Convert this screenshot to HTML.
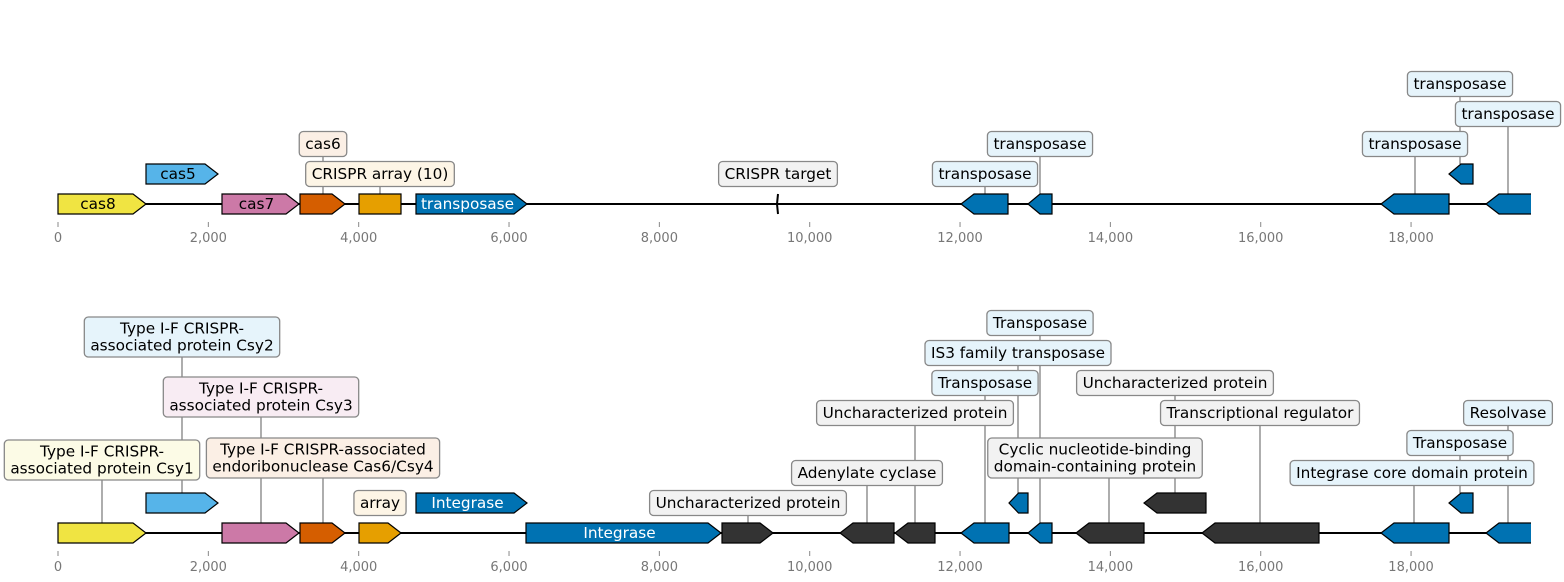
<!DOCTYPE html>
<html><head><meta charset="utf-8"><style>
html,body{margin:0;padding:0;background:#fff;}
svg{display:block;font-family:"DejaVu Sans","Liberation Sans",sans-serif;}
</style></head><body>
<svg id="s" width="1564" height="582" xmlns="http://www.w3.org/2000/svg">
<defs><clipPath id="cp"><rect x="0" y="0" width="1531" height="582"/></clipPath></defs>
<g id="lines"></g><g id="base"></g><g id="genes" clip-path="url(#cp)"></g><g id="boxes"></g><g id="axis"></g>
</svg>
<script>
const NS="http://www.w3.org/2000/svg";
const FS=15.3;
function el(p,t,a,txt){const e=document.createElementNS(NS,t);for(const k in a)e.setAttribute(k,a[k]);if(txt!=null)e.textContent=txt;document.getElementById(p).appendChild(e);return e;}
const Y='#f0e442',LB='#56b4e9',PK='#cc79a7',OR='#d55e00',GO='#e69f00',BL='#0072b2',DK='#333333';
const tint={[Y]:'#fcfbe6',[LB]:'#e6f4fb',[PK]:'#f8ecf3',[OR]:'#fbefe5',[GO]:'#fdf5e6',[BL]:'#e6f4fb',[DK]:'#f2f2f2',none:'#f2f2f2'};
function gene(x1,x2,y,dir,c,label,white){
  const h=10,hl=Math.min(13,(x2-x1)*0.5);let pts;
  if(dir>0)pts=`${x1},${y-h} ${x2-hl},${y-h} ${x2},${y} ${x2-hl},${y+h} ${x1},${y+h}`;
  else if(dir<0)pts=`${x2},${y-h} ${x1+hl},${y-h} ${x1},${y} ${x1+hl},${y+h} ${x2},${y+h}`;
  else pts=`${x1},${y-h} ${x2},${y-h} ${x2},${y+h} ${x1},${y+h}`;
  el('genes','polygon',{points:pts,fill:c,stroke:'#000','stroke-width':1.2,'stroke-linejoin':'miter'});
  if(label)el('genes','text',{x:(x1+x2)/2-(dir>0?4:0),y:y+5,'text-anchor':'middle','font-size':FS,fill:white?'#fff':'#000'},label);
}
function box(cx,cy,lines,fill,lx,ly){
  if(lx!=null)el('lines','line',{x1:lx,y1:cy,x2:lx,y2:ly,stroke:'#333','stroke-width':0.8});
  const g=el('boxes','g',{});
  const n=lines.length,lh=17;
  const r=document.createElementNS(NS,'rect');g.appendChild(r);
  let w=0;
  lines.forEach((s,i)=>{const tx=document.createElementNS(NS,'text');tx.setAttribute('x',cx);tx.setAttribute('y',cy+5-(n-1)*lh/2+i*lh);tx.setAttribute('text-anchor','middle');tx.setAttribute('font-size',FS);tx.textContent=s;g.appendChild(tx);w=Math.max(w,tx.getComputedTextLength());});
  const bw=w+12,bh=n==1?25:40;
  r.setAttribute('x',cx-bw/2);r.setAttribute('y',cy-bh/2);r.setAttribute('width',bw);r.setAttribute('height',bh);r.setAttribute('rx',4);r.setAttribute('fill',fill);r.setAttribute('stroke','#888');r.setAttribute('stroke-width',1.3);
}
function axis(y){
  el('base','line',{x1:58,y1:y,x2:1530,y2:y,stroke:'#000','stroke-width':2});
  for(let i=0;i<=9;i++){const x=58+i*2000*0.07517;el('axis','line',{x1:x,y1:y+18,x2:x,y2:y+23,stroke:'#888','stroke-width':1});
    el('axis','text',{x:x,y:y+38,'text-anchor':'middle','font-size':13,fill:'#777'},i==0?'0':(i*2).toString()+',000');}
}
axis(204);
gene(58,146,204,1,Y,'cas8');
gene(146,218,174,1,LB,'cas5');
gene(222,299,204,1,PK,'cas7');
gene(300,345,204,1,OR);
gene(359,401,204,0,GO);
gene(416,527,204,1,BL,'transposase',true);
el('genes','path',{d:'M778,194 L777,204 L778,214',stroke:'#000','stroke-width':2,fill:'none'});
gene(961,1008,204,-1,BL);
gene(1028,1052,204,-1,BL);
gene(1381,1449,204,-1,BL);
gene(1449,1473,174,-1,BL);
gene(1486,1540,204,-1,BL);
box(323,144,['cas6'],tint[OR],323,194);
box(380,174,['CRISPR array (10)'],'#fdf5e6',380,194);
box(778,174,['CRISPR target'],'#f2f2f2');
box(985,174,['transposase'],tint[BL],985,194);
box(1040,144,['transposase'],tint[BL],1040,194);
box(1415,144,['transposase'],tint[BL],1415,194);
box(1460,84,['transposase'],tint[BL],1460,164);
box(1508,114,['transposase'],tint[BL],1508,194);
const B=533,R=503;
axis(B);
gene(58,146,B,1,Y);
gene(146,218,R,1,LB);
gene(222,299,B,1,PK);
gene(300,345,B,1,OR);
gene(359,401,B,1,GO);
gene(416,527,R,1,BL,'Integrase',true);
gene(526,721,B,1,BL,'Integrase',true);
gene(722,773,B,1,DK);
gene(840,894,B,-1,DK);
gene(895,935,B,-1,DK);
gene(961,1009,B,-1,BL);
gene(1009,1028,R,-1,BL);
gene(1028,1052,B,-1,BL);
gene(1076,1144,B,-1,DK);
gene(1144,1206,R,-1,DK);
gene(1202,1319,B,-1,DK);
gene(1381,1449,B,-1,BL);
gene(1449,1473,R,-1,BL);
gene(1486,1540,B,-1,BL);
box(102,460,['Type I-F CRISPR-','associated protein Csy1'],tint[Y],102,B-10);
box(182,337,['Type I-F CRISPR-','associated protein Csy2'],tint[LB],182,R-10);
box(261,397,['Type I-F CRISPR-','associated protein Csy3'],tint[PK],261,B-10);
box(323,458,['Type I-F CRISPR-associated','endoribonuclease Cas6/Csy4'],tint[OR],323,B-10);
box(380,503,['array'],tint[GO]);
box(748,503,['Uncharacterized protein'],'#f2f2f2',748,B-10);
box(867,473,['Adenylate cyclase'],'#f2f2f2',867,B-10);
box(915,413,['Uncharacterized protein'],'#f2f2f2',915,B-10);
box(985,383,['Transposase'],tint[BL],985,B-10);
box(1018,353,['IS3 family transposase'],tint[BL],1018,R-10);
box(1040,323,['Transposase'],tint[BL],1040,B-10);
box(1095,458,['Cyclic nucleotide-binding','domain-containing protein'],'#f2f2f2',1109,B-10);
box(1175,383,['Uncharacterized protein'],'#f2f2f2',1175,R-10);
box(1260,413,['Transcriptional regulator'],'#f2f2f2',1260,B-10);
box(1412,473,['Integrase core domain protein'],tint[BL],1414,B-10);
box(1460,443,['Transposase'],tint[BL],1460,R-10);
box(1508,413,['Resolvase'],tint[BL],1508,B-10);
</script>
</body></html>
